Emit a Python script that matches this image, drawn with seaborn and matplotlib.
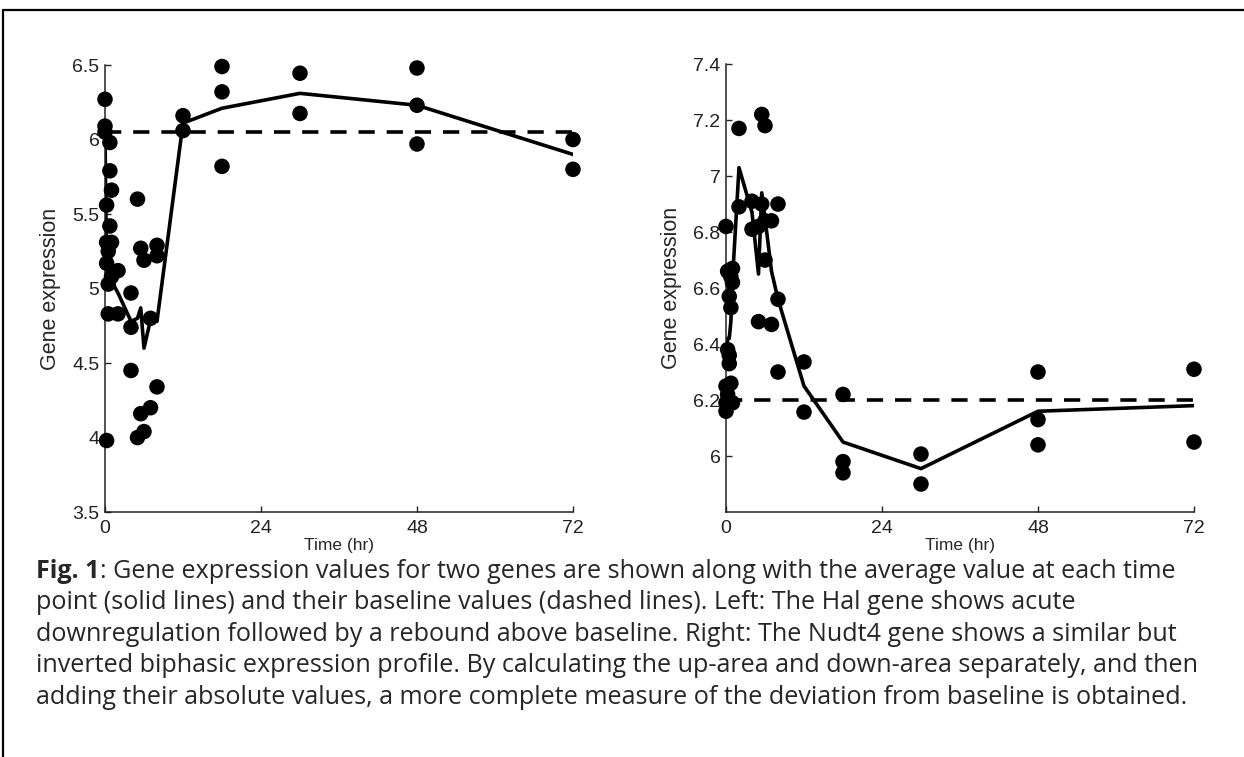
import matplotlib
matplotlib.use("Agg")
import matplotlib.pyplot as plt
import seaborn as sns
import pandas as pd
from matplotlib.lines import Line2D

# Hal gene (left panel): individual samples
hal_time = [0, 0, 0, 0.25, 0.25, 0.25, 0.25, 0.5, 0.5, 0.5,
            0.75, 0.75, 0.75, 1, 1, 1, 2, 2,
            4, 4, 4, 5, 5, 5.5, 5.5, 6, 6, 7, 7, 8, 8, 8,
            12, 12, 18, 18, 18, 30, 30, 48, 48, 48, 72, 72]
hal_expr = [6.27, 6.09, 6.05, 5.56, 5.31, 5.17, 3.98, 5.03, 4.83, 5.25,
            5.98, 5.79, 5.42, 5.66, 5.31, 5.08, 5.12, 4.83,
            4.97, 4.74, 4.45, 5.60, 4.00, 5.27, 4.16, 5.19, 4.04, 4.80, 4.20, 5.29, 5.22, 4.34,
            6.16, 6.06, 6.49, 6.32, 5.82, 6.445, 6.175, 6.48, 6.23, 5.97, 6.00, 5.80]
# Hal gene: average per time point and baseline
hal_mean_time = [0, 0.25, 0.5, 0.75, 1, 2, 4, 5, 5.5, 6, 7, 8, 12, 18, 30, 48, 72]
hal_mean = [6.05, 5.05, 5.1, 5.0, 5.05, 4.97, 4.78, 4.8, 4.87, 4.6, 4.79, 4.78,
            6.11, 6.21, 6.31, 6.23, 5.90]
hal_baseline = 6.05

# Nudt4 gene (right panel): individual samples
nudt_time = [0, 0, 0, 0, 0.25, 0.25, 0.25, 0.5, 0.5, 0.5,
             0.75, 0.75, 0.75, 1, 1, 1, 2, 2,
             4, 4, 5, 5, 5.5, 5.5, 6, 6, 6, 7, 7, 8, 8, 8,
             12, 12, 18, 18, 18, 30, 30, 48, 48, 48, 72, 72]
nudt_expr = [6.82, 6.25, 6.16, 6.19, 6.38, 6.66, 6.22, 6.57, 6.36, 6.33,
             6.64, 6.53, 6.26, 6.67, 6.62, 6.19, 7.17, 6.89,
             6.91, 6.81, 6.82, 6.48, 7.22, 6.90, 7.18, 6.84, 6.70, 6.47, 6.84, 6.90, 6.56, 6.30,
             6.336, 6.157, 6.22, 5.98, 5.94, 6.007, 5.90, 6.30, 6.13, 6.04, 6.31, 6.05]
nudt_mean_time = [0, 0.25, 0.5, 0.75, 1, 2, 4, 5, 5.5, 6, 7, 8, 12, 18, 30, 48, 72]
nudt_mean = [6.36, 6.42, 6.42, 6.48, 6.63, 7.03, 6.87, 6.65, 6.94, 6.85, 6.66, 6.56,
             6.25, 6.05, 5.955, 6.16, 6.18]
nudt_baseline = 6.2

time_ticks = [0, 24, 48, 72]

caption_lines = [
    ": Gene expression values for two genes are shown along with the average value at each time",
    "point (solid lines) and their baseline values (dashed lines). Left: The Hal gene shows acute",
    "downregulation followed by a rebound above baseline. Right: The Nudt4 gene shows a similar but",
    "inverted biphasic expression profile. By calculating the up-area and down-area separately, and then",
    "adding their absolute values, a more complete measure of the deviation from baseline is obtained.",
]

sns.set_style("ticks")
plt.rcParams["font.family"] = ["Liberation Sans", "DejaVu Sans"]
plt.rcParams["xtick.direction"] = "in"
plt.rcParams["ytick.direction"] = "in"

fig = plt.figure(figsize=(12.44, 7.57), dpi=100)
ax1 = fig.add_axes([0.0844, 0.3236, 0.3762, 0.5905])
ax2 = fig.add_axes([0.5836, 0.3236, 0.3762, 0.5918])


def draw_panel(ax, t, y, mt, my, base, ylim, yticks, ylabels):
    pts = pd.DataFrame({"time": t, "expr": y})
    avg = pd.DataFrame({"time": mt, "expr": my})
    bl = pd.DataFrame({"time": [0, 72], "expr": [base, base]})
    sns.lineplot(data=bl, x="time", y="expr", ax=ax, color="black", lw=2.6,
                 dashes=False, linestyle=(0, (4.5, 3.3)))
    sns.lineplot(data=avg, x="time", y="expr", ax=ax, color="black", lw=2.6,
                 estimator=None, sort=False)
    sns.scatterplot(data=pts, x="time", y="expr", ax=ax, color="black", s=125,
                    edgecolor="none", clip_on=False, zorder=3)
    ax.set_xlim(0, 72)
    ax.set_ylim(*ylim)
    ax.set_xticks(time_ticks)
    ax.set_xticklabels([str(v) for v in time_ticks])
    ax.set_yticks(yticks)
    ax.set_yticklabels(ylabels)
    ax.set_xlabel("Time (hr)", fontsize=12.5, labelpad=0.5)
    ax.set_ylabel("Gene expression", fontsize=15.5, labelpad=8)
    ax.tick_params(labelsize=14, length=4, width=1.0, colors="#222222")
    ax.tick_params(axis="x", pad=6)
    ax.tick_params(axis="y", pad=4)
    for sp in ["left", "bottom"]:
        ax.spines[sp].set_linewidth(1.1)
        ax.spines[sp].set_color("#222222")
    sns.despine(ax=ax)


draw_panel(ax1, hal_time, hal_expr, hal_mean_time, hal_mean, hal_baseline,
           (3.5, 6.5), [3.5, 4, 4.5, 5, 5.5, 6, 6.5],
           ["3.5", "4", "4.5", "5", "5.5", "6", "6.5"])
draw_panel(ax2, nudt_time, nudt_expr, nudt_mean_time, nudt_mean, nudt_baseline,
           (5.8, 7.4), [6, 6.2, 6.4, 6.6, 6.8, 7, 7.2, 7.4],
           ["6", "6.2", "6.4", "6.6", "6.8", "7", "7.2", "7.4"])

# frame rules (top and left)
fig.add_artist(Line2D([3 / 1244, 1], [1 - 10 / 757, 1 - 10 / 757], color="black", lw=1.6,
                      transform=fig.transFigure))
fig.add_artist(Line2D([3 / 1244, 3 / 1244], [0, 1 - 10 / 757], color="black", lw=1.6,
                      transform=fig.transFigure))

# caption
cap_font = ["Open Sans", "DejaVu Sans"]
cap_size = 18.1
x0 = 36 / 1244
y_first = 1 - 571 / 757
step = 31.6 / 757
bold = fig.text(x0, y_first, "Fig. 1", fontsize=cap_size, fontweight="bold",
                family=cap_font, va="center", ha="left")
fig.canvas.draw()
bb = bold.get_window_extent(renderer=fig.canvas.get_renderer())
x_rest = bb.x1 / fig.bbox.width
for i, line in enumerate(caption_lines):
    xx = x_rest if i == 0 else x0
    fig.text(xx, y_first - i * step, line, fontsize=cap_size, family=cap_font,
             va="center", ha="left")

fig.savefig("out.png", dpi=100)
